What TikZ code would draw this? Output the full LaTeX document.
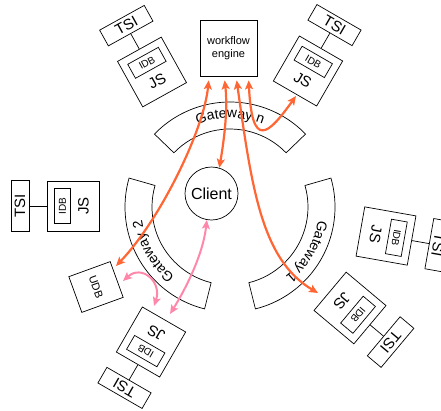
\documentclass[tikz,border=0pt]{standalone}
\usepackage{fontspec}
\setmainfont{Liberation Sans}
\usetikzlibrary{arrows.meta,decorations.text,calc}
\definecolor{orangearr}{RGB}{255,102,51}
\definecolor{pinkarr}{RGB}{255,136,170}
\tikzset{
  jsbox/.style={draw, minimum width=50pt, minimum height=52pt, inner sep=0pt},
  idbbox/.style={draw, minimum width=35pt, minimum height=16pt, inner sep=0pt, font=\fontsize{10}{11}\selectfont},
  jslabel/.style={inner sep=0pt, font=\fontsize{15}{16}\selectfont},
  tsibox/.style={draw, minimum width=51pt, minimum height=18pt, inner sep=0pt, font=\fontsize{15}{16}\selectfont},
  gwshape/.style={draw, line width=0.7pt},
  orangeline/.style={draw=orangearr, line width=2.2pt, {Stealth[length=9pt,width=8pt,inset=2pt]}-{Stealth[length=9pt,width=8pt,inset=2pt]}},
  pinkline/.style={draw=pinkarr, line width=2pt, {Stealth[length=9pt,width=8pt,inset=2pt]}-{Stealth[length=9pt,width=8pt,inset=2pt]}},
  jsgroup/.pic={
    \node[jsbox] (-js) at (0,0) {};
    \node[idbbox] (-idb) at (0,-10.5) {IDB};
    \node[jslabel] (-lab) at (0,10.5) {JS};
    \node[tsibox] (-tsi) at (0,-53) {TSI};
    \draw (-js) -- (-tsi);
  }
}
\newcommand\gwfont{\fontsize{14}{15}\selectfont}
\begin{document}
\begin{tikzpicture}[x=1pt,y=-1pt,line width=0.7pt]
\useasboundingbox (0,0) rectangle (441,410);

% workflow engine
\node[draw, minimum width=57pt, minimum height=56pt, align=center, inner sep=0pt,
  font=\fontsize{11}{13}\selectfont] (wf) at (228.5,48) {workflow\\engine};

% client
\node[draw, circle, minimum size=53pt, inner sep=0pt, font=\fontsize{16}{17}\selectfont] (cl) at (211.5,193.5) {Client};

% gateways (common centre 230,207; radii 78 / 105)
\coordinate (gc) at (230,207);
\draw[gwshape] ([shift={(gc)}]-136:105) arc[start angle=-136,end angle=-44,radius=105]
  -- ([shift={(gc)}]-44:78) arc[start angle=-44,end angle=-136,radius=78] -- cycle;
\path[decorate, decoration={text along path, text align=center, text={|\gwfont|Gateway n}}]
  ([shift={(gc)}]-136:89) arc[start angle=-136,end angle=-44,radius=89];

\draw[gwshape] ([shift={(gc)}]-256:105) arc[start angle=-256,end angle=-164,radius=105]
  -- ([shift={(gc)}]-164:78) arc[start angle=-164,end angle=-256,radius=78] -- cycle;
\path[decorate, decoration={text along path, text align=center, text={|\gwfont|Gateway 2}}]
  ([shift={(gc)}]-256:89) arc[start angle=-256,end angle=-164,radius=89];

\draw[gwshape] ([shift={(gc)}]-16:105) arc[start angle=-16,end angle=76,radius=105]
  -- ([shift={(gc)}]76:78) arc[start angle=76,end angle=-16,radius=78] -- cycle;
\path[decorate, decoration={text along path, text align=center, text={|\gwfont|Gateway 1}}]
  ([shift={(gc)}]-16:89) arc[start angle=-16,end angle=76,radius=89];

% JS groups
\pic[rotate=29, transform shape] (g1) at (152,72) {jsgroup};
\pic[rotate=-30, transform shape] (g2) at (308,71) {jsgroup};
\pic[rotate=90, transform shape] (g3) at (73,206) {jsgroup};
\pic[rotate=-100, transform shape] (g4) at (386,236) {jsgroup};
\pic[rotate=-130, transform shape] (g5) at (350,308) {jsgroup};
\pic[rotate=150, transform shape] (g6) at (151,342) {jsgroup};

% UDB
\node[draw, minimum width=38pt, minimum height=44pt, inner sep=0pt, rotate=-70,
  font=\fontsize{11}{12}\selectfont] (udb) at (96,287) {UDB};

% arrow end points
\coordinate (wa) at ($(wf.south west)+(9,4)$);
\coordinate (wb) at ($(wf.south west)+(25,4)$);
\coordinate (wc) at ($(wf.south west)+(37,4)$);
\coordinate (wd) at ($(wf.south west)+(49,4)$);
\coordinate (ua) at ($(udb.center)+(20,-21)$);
\coordinate (ub) at ($(udb.center)+(27,-6)$);
\coordinate (ct) at (cl.73);
\coordinate (cb) at (cl.260);
\coordinate (j2) at ($(g2-js.center)+(-12,25)$);
\coordinate (j5) at ($(g5-js.center)+(-32,-15)$);
\coordinate (j6a) at ($(g6-js.center)+(19,-28)$);
\coordinate (j6b) at ($(g6-js.center)+(3,-36)$);

% orange arrows
\draw[orangeline] (wa) .. controls (204,130) and (160,220) .. (ua);
\draw[orangeline] (wb) .. controls (228,110) and (224,140) .. (ct);
\draw[orangeline] (wc) .. controls (252,190) and (262,260) .. (j5);
\draw[orangeline] (wd) .. controls (252,150) and (268,135) .. (j2);

% pink arrows
\draw[pinkline] (cb) .. controls (203,255) and (185,290) .. (j6a);
\draw[pinkline] (ub) .. controls (142,264) and (162,282) .. (j6b);
\end{tikzpicture}
\end{document}
